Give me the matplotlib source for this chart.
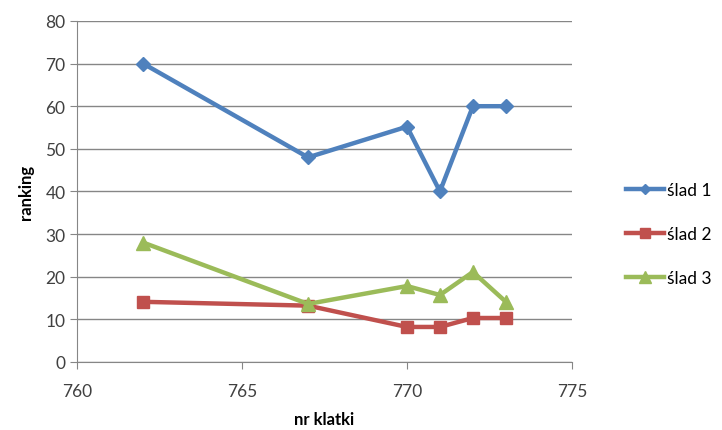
import matplotlib
matplotlib.use("Agg")
import matplotlib.pyplot as plt

plt.rcParams['font.family'] = ['Lato', 'DejaVu Sans']

klatki = [762, 767, 770, 771, 772, 773]
slad1 = [70, 48, 55.2, 40, 60, 60]
slad2 = [14.1, 13.2, 8.2, 8.2, 10.3, 10.3]
slad3 = [28, 13.6, 17.8, 15.7, 21.1, 14.1]

fig = plt.figure(figsize=(7.22, 4.31), dpi=100)
ax = fig.add_axes([0.107, 0.158, 0.685, 0.791])

ax.plot(klatki, slad1, color="#4F81BD", lw=3.2, marker="D", ms=7, label="ślad 1")
ax.plot(klatki, slad2, color="#C0504D", lw=3.2, marker="s", ms=9, label="ślad 2")
ax.plot(klatki, slad3, color="#9BBB59", lw=3.2, marker="^", ms=10, label="ślad 3")

ax.set_xlim(760, 775)
ax.set_ylim(0, 80)
ax.set_xticks([760, 765, 770, 775])
ax.set_yticks(range(0, 81, 10))
ax.yaxis.grid(True, color="#868686", lw=1)
ax.set_axisbelow(True)
for s in ["top", "right"]:
    ax.spines[s].set_visible(False)
for s in ["left", "bottom"]:
    ax.spines[s].set_color("#868686")
ax.tick_params(axis="both", colors="#868686", labelcolor="#404040", labelsize=12.5, length=5)
ax.tick_params(axis="x", pad=10)
ax.set_xlabel("nr klatki", fontsize=12, fontweight="bold", labelpad=9)
ax.set_ylabel("ranking", fontsize=12, fontweight="bold", labelpad=8)

fig.legend(loc="center left", bbox_to_anchor=(0.845, 0.455), frameon=False,
           fontsize=12.5, handlelength=2.2, labelspacing=1.6, handletextpad=0.2,
           markerscale=0.8)

fig.savefig("out.png", dpi=100)
